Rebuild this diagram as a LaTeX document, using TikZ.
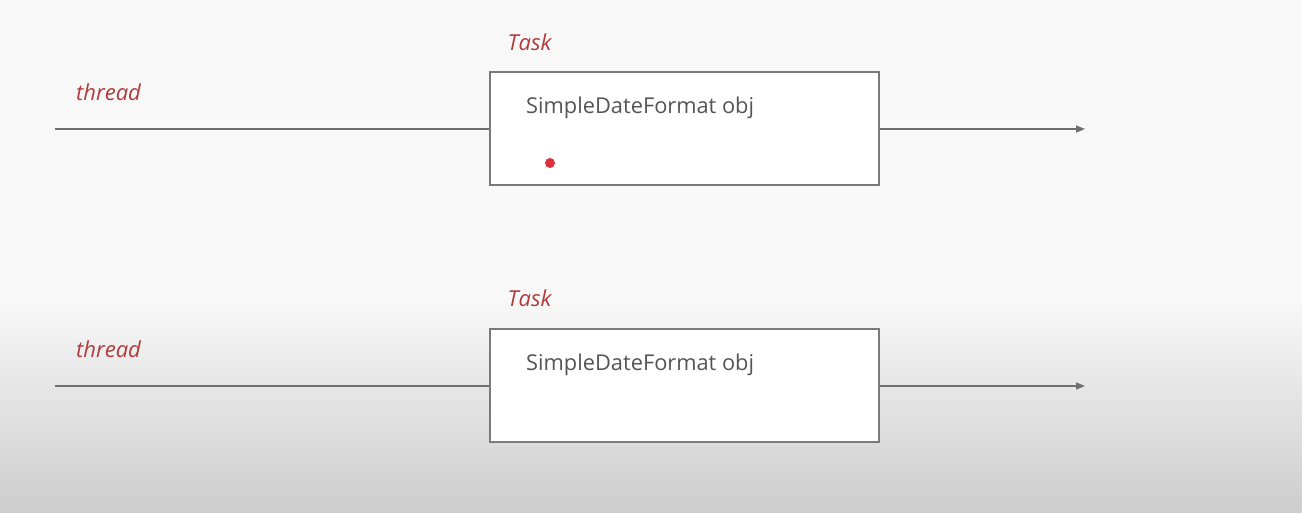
\documentclass[tikz,border=0pt]{standalone}
\usepackage{fontspec}
\setmainfont{Open Sans}
\usetikzlibrary{arrows.meta}
\definecolor{bgtop}{HTML}{F8F8F8}
\definecolor{bgbot}{HTML}{CDCDCD}
\definecolor{lbl}{HTML}{B23A3A}
\definecolor{txt}{HTML}{555555}
\definecolor{edge}{HTML}{7A7A7A}
\definecolor{dotred}{HTML}{E0303C}
\tikzset{
  taskbox/.style={draw=edge, line width=1.3pt, fill=white, minimum width=389pt, minimum height=113pt, inner sep=0pt},
  redlabel/.style={text=lbl, font=\fontsize{22}{25}\selectfont\itshape, inner sep=0pt, anchor=west},
  objtext/.style={text=txt, font=\fontsize{21.8}{25}\selectfont, inner sep=0pt, anchor=west},
  thline/.style={draw=edge!90!black, line width=1.3pt},
  tharrow/.style={thline, -{Triangle[length=9pt,width=7pt]}}
}
\begin{document}
\begin{tikzpicture}[x=1pt,y=-1pt]
\useasboundingbox (0,0) rectangle (1302,512);
\fill[bgtop] (0,0) rectangle (1302,300);
\shade[top color=bgtop, bottom color=bgbot] (0,299.5) rectangle (1302,512);
% row 1
\node[taskbox] (box1) at (684.5,128.5) {};
\node[redlabel] (task1) at (507.5,42) {Task};
\node[redlabel] (thr1) at (76,92) {thread};
\node[objtext] (obj1) at (526,108) {SimpleDateFormat obj};
\coordinate (s1) at (55,129);
\coordinate (e1) at (1085,129);
\draw[thline] (s1) -- (s1 -| box1.west);
\draw[tharrow] (e1 -| box1.east) -- (e1);
\fill[dotred] (550,163) circle (5pt);
% row 2
\node[taskbox] (box2) at (684.5,385.5) {};
\node[redlabel] (task2) at (507.5,298) {Task};
\node[redlabel] (thr2) at (76,349) {thread};
\node[objtext] (obj2) at (526,365) {SimpleDateFormat obj};
\coordinate (s2) at (55,386);
\coordinate (e2) at (1085,386);
\draw[thline] (s2) -- (s2 -| box2.west);
\draw[tharrow] (e2 -| box2.east) -- (e2);
\end{tikzpicture}
\end{document}
